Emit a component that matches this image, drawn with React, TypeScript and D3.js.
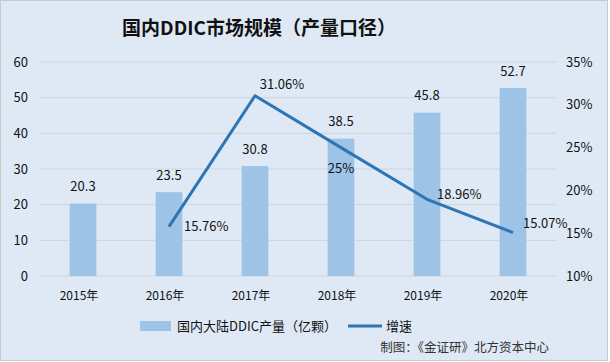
import { useMemo } from "react";
import * as d3 from "d3";

const WIDTH = 610;
const HEIGHT = 362;
const MARGIN = { top: 62, right: 54, bottom: 86, left: 40 };

const years = ["2015年", "2016年", "2017年", "2018年", "2019年", "2020年"];
const output = [20.3, 23.5, 30.8, 38.5, 45.8, 52.7];
const growth = [null, 15.76, 31.06, 25, 18.96, 15.07];
const growthLabels = ["", "15.76%", "31.06%", "25%", "18.96%", "15.07%"];
const leftTicks = [0, 10, 20, 30, 40, 50, 60];
const rightTicks = [10, 15, 20, 25, 30, 35];

// label offsets relative to the point (dx, dy, anchor)
const growthLabelPos: [number, number, string][] = [
  [0, 0, "middle"],
  [15, 0, "start"],
  [27, -11, "middle"],
  [0, 21, "middle"],
  [10, -5, "start"],
  [10, -9, "start"],
];

const FONT = "'Noto Sans CJK SC', 'Noto Sans', sans-serif";
const BAR_COLOR = "#9dc3e6";
const LINE_COLOR = "#2e75b6";

export default function App() {
  const boundsWidth = WIDTH - MARGIN.left - MARGIN.right;
  const boundsHeight = HEIGHT - MARGIN.top - MARGIN.bottom;

  const xScale = useMemo(
    () => d3.scaleBand().domain(years).range([0, boundsWidth]).paddingInner(0.69).paddingOuter(0.345),
    [boundsWidth]
  );
  const yLeft = useMemo(() => d3.scaleLinear().domain([0, 60]).range([boundsHeight, 0]), [boundsHeight]);
  const yRight = useMemo(() => d3.scaleLinear().domain([10, 35]).range([boundsHeight, 0]), [boundsHeight]);

  const cx = (y: string) => (xScale(y) ?? 0) + xScale.bandwidth() / 2;

  const linePath = d3
    .line<number | null>()
    .defined((d) => d !== null)
    .x((_, i) => cx(years[i]))
    .y((d) => yRight(d as number))(growth);

  return (
    <svg width={WIDTH} height={HEIGHT} style={{ position: "absolute", left: 0, top: 0 }} fontFamily={FONT}>
      <rect x={0.5} y={0.5} width={WIDTH - 3} height={HEIGHT - 2} fill="#dee9f5" stroke="#c9c9c9" />
      <text x={WIDTH / 2 - 46} y={35} textAnchor="middle" fontSize={19} fontWeight="bold" fill="#111">
        国内DDIC市场规模（产量口径）
      </text>
      <g transform={`translate(${MARGIN.left},${MARGIN.top})`}>
        {leftTicks.map((t) => (
          <g key={t}>
            <line x1={0} x2={boundsWidth} y1={yLeft(t)} y2={yLeft(t)} stroke="#cfd3d8" strokeWidth={1} />
            <text x={-12} y={yLeft(t)} dy="0.35em" textAnchor="end" fontSize={13} fill="#111">
              {t}
            </text>
          </g>
        ))}
        {rightTicks.map((t) => (
          <text key={t} x={boundsWidth + 10} y={yRight(t)} dy="0.35em" textAnchor="start" fontSize={13} fill="#111">
            {t}%
          </text>
        ))}
        {years.map((y, i) => (
          <g key={y}>
            <rect
              x={xScale(y)}
              y={yLeft(output[i])}
              width={xScale.bandwidth()}
              height={boundsHeight - yLeft(output[i])}
              fill={BAR_COLOR}
            />
            <text x={cx(y)} y={yLeft(output[i]) - 17} dy="0.35em" textAnchor="middle" fontSize={13} fill="#111">
              {output[i]}
            </text>
            <text x={cx(y) - 4} y={boundsHeight + 20} dy="0.35em" textAnchor="middle" fontSize={12} fill="#111">
              {y}
            </text>
          </g>
        ))}
        <path d={linePath ?? ""} fill="none" stroke={LINE_COLOR} strokeWidth={3} strokeLinejoin="round" />
        {growth.map((g, i) =>
          g === null ? null : (
            <text
              key={i}
              x={cx(years[i]) + growthLabelPos[i][0]}
              y={yRight(g) + growthLabelPos[i][1]}
              dy="0.35em"
              textAnchor={growthLabelPos[i][2]}
              fontSize={13}
              fill="#111"
            >
              {growthLabels[i]}
            </text>
          )
        )}
      </g>
      <g>
        <rect x={140} y={321} width={31} height={10} fill={BAR_COLOR} />
        <text x={177} y={326} dy="0.35em" fontSize={13} fill="#111">
          国内大陆DDIC产量（亿颗）
        </text>
        <line x1={348} x2={382} y1={326} y2={326} stroke={LINE_COLOR} strokeWidth={3} />
        <text x={386} y={326} dy="0.35em" fontSize={13} fill="#111">
          增速
        </text>
      </g>
      <text x={549} y={348} dy="0.35em" textAnchor="end" fontSize={12.5} fill="#333">
        制图：《金证研》北方资本中心
      </text>
    </svg>
  );
}
